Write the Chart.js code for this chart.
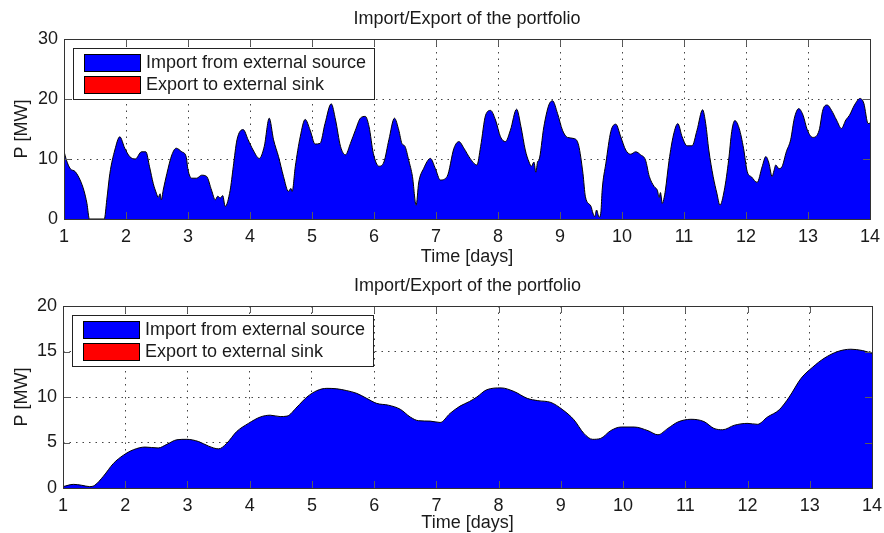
<!DOCTYPE html>
<html>
<head>
<meta charset="utf-8">
<script src="https://cdn.jsdelivr.net/npm/chart.js@4.4.1/dist/chart.umd.min.js"></script>
<style>
  html, body { margin: 0; padding: 0; background: #ffffff; }
  #wrap { position: relative; width: 884px; height: 533px; overflow: hidden; }
  canvas { position: absolute; left: 0; }
</style>
</head>
<body>
<div id="wrap">
  <canvas id="chartTop" width="884" height="267" style="top:0px"></canvas>
  <canvas id="chartBottom" width="884" height="266" style="top:267px"></canvas>
</div>
<script>
// ---- Upper panel: hourly-resolution import profile [MW] ----
const topDays = [
  1.00, 1.04, 1.10, 1.18, 1.26, 1.32, 1.37, 1.41, 1.65, 1.69, 1.74, 1.82, 1.90, 1.98,
  2.06, 2.15, 2.25, 2.32, 2.38, 2.44, 2.49, 2.52, 2.55, 2.57, 2.60, 2.66, 2.74, 2.81, 2.90, 2.97,
  3.00, 3.06, 3.14, 3.22, 3.30, 3.38, 3.44, 3.48, 3.52, 3.56, 3.60, 3.68, 3.73, 3.79, 3.89, 3.97,
  4.05, 4.15, 4.23, 4.31, 4.38, 4.46, 4.54, 4.62, 4.66, 4.68, 4.73, 4.81, 4.89, 4.97,
  5.05, 5.13, 5.21, 5.31, 5.38, 5.46, 5.54, 5.62, 5.70, 5.78, 5.86, 5.92, 5.99,
  6.08, 6.16, 6.24, 6.33, 6.40, 6.45, 6.50, 6.56, 6.62, 6.68, 6.72, 6.80, 6.91, 6.99,
  7.07, 7.18, 7.29, 7.37, 7.45, 7.55, 7.66, 7.72, 7.80, 7.88, 7.96,
  8.04, 8.12, 8.20, 8.30, 8.37, 8.44, 8.50, 8.54, 8.58, 8.61, 8.64, 8.66, 8.74, 8.82, 8.88, 8.96,
  9.04, 9.12, 9.23, 9.30, 9.37, 9.41, 9.50, 9.53, 9.56, 9.59, 9.63, 9.66, 9.68, 9.74, 9.82, 9.90, 9.98,
  10.06, 10.14, 10.22, 10.30, 10.38, 10.44, 10.52, 10.57, 10.60, 10.62, 10.65, 10.68, 10.70, 10.76, 10.83, 10.90, 10.97,
  11.05, 11.13, 11.21, 11.30, 11.35, 11.40, 11.47, 11.53, 11.58, 11.65, 11.72, 11.77, 11.82, 11.89, 11.96,
  12.02, 12.09, 12.18, 12.26, 12.32, 12.37, 12.42, 12.45, 12.48, 12.53, 12.58, 12.65, 12.72, 12.78, 12.85, 12.92, 12.99,
  13.08, 13.18, 13.24, 13.31, 13.38, 13.46, 13.54, 13.61, 13.67, 13.75, 13.84, 13.90, 13.97, 14.00
];
const topImportMW = [
  11.3, 9.8, 8.4, 7.9, 6.5, 4.8, 2.6, 0.0, 0.0, 3.2, 7.6, 11.5, 13.7, 11.8,
  10.4, 10.0, 11.2, 11.2, 8.7, 5.9, 4.3, 3.6, 4.2, 3.2, 4.8, 7.6, 10.7, 11.8, 11.2, 10.4,
  8.2, 6.8, 6.8, 7.3, 7.1, 4.8, 3.2, 3.8, 3.5, 3.9, 2.1, 4.8, 8.7, 13.2, 14.9, 13.2,
  11.5, 10.1, 12.1, 16.8, 13.2, 10.4, 7.1, 4.6, 5.1, 4.6, 8.7, 13.7, 16.6, 14.8,
  12.5, 12.6, 15.9, 19.2, 16.5, 12.1, 10.7, 12.6, 14.8, 16.8, 17.1, 15.4, 10.9,
  8.8, 9.5, 13.2, 16.8, 14.8, 12.6, 12.1, 9.8, 7.1, 2.3, 6.0, 8.4, 10.1, 8.4,
  6.5, 7.1, 11.8, 12.9, 11.8, 10.1, 9.0, 12.1, 17.3, 18.1, 16.5,
  13.7, 12.9, 14.8, 18.3, 15.4, 11.5, 9.5, 8.8, 9.5, 7.8, 9.6, 9.8, 15.4, 19.0, 19.7, 17.6,
  14.8, 13.6, 13.4, 12.3, 7.6, 3.7, 2.1, 1.0, 0.4, 1.5, 0.3, 1.2, 4.8, 9.3, 14.6, 15.8, 13.7,
  11.5, 10.8, 11.2, 10.7, 9.8, 7.1, 5.4, 4.8, 3.6, 4.4, 2.6, 3.6, 4.8, 9.8, 14.0, 15.9, 13.7,
  12.2, 12.2, 14.8, 18.2, 15.9, 11.5, 7.1, 4.3, 2.3, 4.8, 9.8, 14.6, 16.4, 15.1, 11.8,
  7.9, 7.0, 6.1, 8.7, 10.4, 9.3, 7.1, 8.0, 9.0, 8.4, 8.7, 11.2, 13.2, 16.8, 18.4, 17.3, 14.8,
  13.6, 14.8, 18.2, 19.0, 18.1, 16.5, 15.1, 16.5, 17.3, 19.0, 20.1, 19.3, 15.9, 16.0
];

// ---- Lower panel: smoothed import profile [MW] ----
const bottomDays = [
  1.00, 1.17, 1.30, 1.43, 1.51, 1.65, 1.81, 1.97, 2.13, 2.32, 2.53, 2.67, 2.83, 2.99,
  3.18, 3.34, 3.50, 3.63, 3.79, 3.98, 4.17, 4.33, 4.49, 4.60, 4.76, 4.92,
  5.08, 5.24, 5.40, 5.56, 5.72, 5.88, 6.04, 6.23, 6.42, 6.58, 6.71, 6.90,
  7.06, 7.22, 7.38, 7.53, 7.65, 7.81, 8.04, 8.25, 8.46, 8.63, 8.84,
  9.02, 9.21, 9.37, 9.51, 9.64, 9.80, 9.97, 10.18, 10.40, 10.56, 10.72, 10.88,
  11.09, 11.30, 11.46, 11.60, 11.79, 12.00, 12.16, 12.32, 12.51, 12.67, 12.86,
  13.05, 13.23, 13.45, 13.66, 13.85, 14.00
];
const bottomImportMW = [
  0.15, 0.4, 0.3, 0.15, 0.3, 1.3, 2.7, 3.6, 4.2, 4.5, 4.4, 4.8, 5.3, 5.35,
  5.1, 4.6, 4.3, 4.9, 6.2, 7.1, 7.8, 8.0, 7.85, 7.9, 8.9, 10.0,
  10.7, 10.95, 10.9, 10.7, 10.4, 9.85, 9.3, 9.1, 8.65, 7.8, 7.4, 7.35,
  7.2, 8.2, 9.0, 9.5, 10.0, 10.8, 11.0, 10.6, 9.85, 9.6, 9.4,
  8.65, 7.5, 6.0, 5.35, 5.45, 6.3, 6.7, 6.7, 6.3, 5.85, 6.55, 7.25,
  7.55, 7.3, 6.55, 6.4, 6.9, 7.1, 7.0, 7.8, 8.6, 10.0, 12.05,
  13.3, 14.25, 15.0, 15.25, 15.1, 14.8
];

// Export stays at zero over the whole horizon
const exportDays = [1, 14];
const exportMW = [0, 0];

const xTicks = [1, 2, 3, 4, 5, 6, 7, 8, 9, 10, 11, 12, 13, 14];
const topYTicks = [0, 10, 20, 30];
const bottomYTicks = [0, 5, 10, 15, 20];

const FONT = 'Liberation Sans, Arial, Helvetica, sans-serif';
const TEXT = '#1a1a1a';

const toPoints = (xs, ys) => xs.map((x, i) => ({ x: x, y: ys[i] }));

// Axes box, inward tick marks and the in-plot legend (MATLAB style)
const frameAndLegend = {
  id: 'frameAndLegend',
  afterDatasetsDraw(chart) {
    const { ctx, chartArea: a, scales } = chart;
    ctx.save();
    ctx.strokeStyle = '#5a5a5a';
    ctx.lineWidth = 1;
    const len = 7;
    ctx.beginPath();
    scales.x.ticks.forEach(t => {
      const px = Math.round(scales.x.getPixelForValue(t.value)) + 0.5;
      ctx.moveTo(px, a.bottom); ctx.lineTo(px, a.bottom - len);
      ctx.moveTo(px, a.top); ctx.lineTo(px, a.top + len);
    });
    scales.y.ticks.forEach(t => {
      const py = Math.round(scales.y.getPixelForValue(t.value)) + 0.5;
      ctx.moveTo(a.left, py); ctx.lineTo(a.left + len, py);
      ctx.moveTo(a.right, py); ctx.lineTo(a.right - len, py);
    });
    ctx.stroke();
    ctx.strokeStyle = '#333333';
    ctx.strokeRect(Math.round(a.left) + 0.5, Math.round(a.top) + 0.5,
                   Math.round(a.right - a.left), Math.round(a.bottom - a.top));
    ctx.restore();
  },
  afterDraw(chart) {
    const { ctx, chartArea: a } = chart;
    const bx = Math.round(a.left) + 9, by = Math.round(a.top) + 9;
    const bw = 301, bh = 51;
    ctx.save();
    ctx.fillStyle = '#ffffff';
    ctx.fillRect(bx, by, bw, bh);
    ctx.strokeStyle = '#222222';
    ctx.lineWidth = 1;
    ctx.strokeRect(bx + 0.5, by + 0.5, bw, bh);
    ctx.font = '18px ' + FONT;
    ctx.textBaseline = 'middle';
    ctx.textAlign = 'left';
    chart.data.datasets.forEach((ds, i) => {
      const sy = by + 6 + i * 22;
      ctx.fillStyle = ds.legendColor;
      ctx.fillRect(bx + 11, sy, 56, 17);
      ctx.strokeStyle = '#000000';
      ctx.strokeRect(bx + 11.5, sy + 0.5, 56, 17);
      ctx.fillStyle = TEXT;
      ctx.fillText(ds.label, bx + 73, sy + 9.5);
    });
    ctx.restore();
  }
};

function makePanel(canvasId, days, values, yTicks, leftWidth, padRight, xAxisHeight) {
  const yMax = yTicks[yTicks.length - 1];
  const yStep = yTicks[1] - yTicks[0];
  return new Chart(document.getElementById(canvasId), {
    type: 'line',
    data: {
      datasets: [
        {
          label: 'Import from external source',
          data: toPoints(days, values),
          backgroundColor: '#0000ff',
          legendColor: '#0000ff',
          borderColor: '#000000',
          borderWidth: 1,
          pointRadius: 0,
          fill: 'origin',
          cubicInterpolationMode: 'monotone',
          order: 1
        },
        {
          label: 'Export to external sink',
          data: toPoints(exportDays, exportMW),
          backgroundColor: '#ff0000',
          legendColor: '#ff0000',
          borderColor: 'rgba(0,0,0,0)',
          borderWidth: 1,
          pointRadius: 0,
          fill: 'origin',
          order: 2
        }
      ]
    },
    options: {
      responsive: false,
      animation: false,
      devicePixelRatio: 1,
      layout: { padding: { left: 0, right: padRight, top: 0, bottom: 0 } },
      plugins: {
        legend: { display: false },
        tooltip: { enabled: false },
        title: {
          display: true,
          fullSize: false,
          text: 'Import/Export of the portfolio',
          color: TEXT,
          font: { family: FONT, size: 18, weight: 'normal' },
          padding: { top: 8, bottom: 9.4 }
        }
      },
      scales: {
        x: {
          type: 'linear',
          min: 1, max: 14,
          afterBuildTicks(scale) { scale.ticks = xTicks.map(v => ({ value: v })); },
          afterFit(scale) {
            scale.height = xAxisHeight;
            scale.paddingLeft = 0;
            scale.paddingRight = 0;
          },
          grid: { color: '#444444', lineWidth: 1, drawTicks: false },
          border: { display: false, dash: [1.5, 5] },
          ticks: {
            color: TEXT, padding: 7, maxRotation: 0,
            font: { family: FONT, size: 18 }
          },
          title: {
            display: true, text: 'Time [days]', color: TEXT,
            font: { family: FONT, size: 18 }, padding: { top: 0, bottom: -1 }
          }
        },
        y: {
          type: 'linear',
          min: 0, max: yMax,
          ticks: {
            stepSize: yStep, color: TEXT, padding: 6,
            font: { family: FONT, size: 18 }
          },
          afterFit(scale) {
            scale.width = leftWidth;
            scale.paddingTop = 0;
            scale.paddingBottom = 0;
          },
          grid: { color: '#444444', lineWidth: 1, drawTicks: false },
          border: { display: false, dash: [1.5, 5] },
          title: {
            display: true, text: 'P [MW]', color: TEXT,
            font: { family: FONT, size: 18 }, padding: { top: 11, bottom: 0 }
          }
        }
      }
    },
    plugins: [frameAndLegend]
  });
}

makePanel('chartTop', topDays, topImportMW, topYTicks, 64, 14, 48);
makePanel('chartBottom', bottomDays, bottomImportMW, bottomYTicks, 63, 12, 45);
</script>
</body>
</html>
